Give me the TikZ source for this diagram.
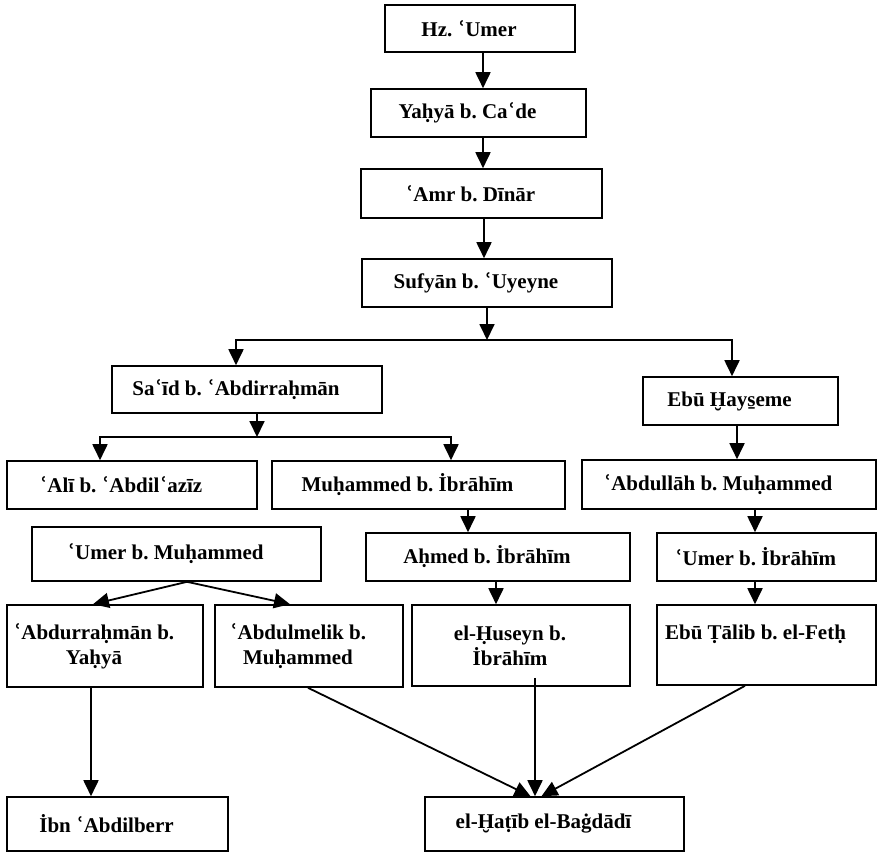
\documentclass[tikz,border=0pt]{standalone}
\usepackage{fontspec}
\setmainfont{Liberation Serif}
\newfontfamily\aynfont{DejaVu Serif}
\newcommand\ayn{{\aynfont ʿ}}
\usetikzlibrary{arrows.meta}
\frenchspacing

\tikzset{
  box/.style={draw, line width=1.6pt, inner sep=0pt},
  who/.style={font=\fontsize{21}{25}\selectfont\bfseries, align=center, xshift=-11pt},
  arr/.style={line width=1.8pt, -{Triangle[length=16pt,width=15pt]}},
  bar/.style={line width=1.8pt}
}

\begin{document}
\begin{tikzpicture}[x=1pt, y=-1pt]
  \useasboundingbox (0,0) rectangle (878,855);
  % chain at the top
  \node[box, minimum width=190, minimum height=47, label={[who]center:Hz. \ayn Umer}] (umer) at (480,28.5) {};
  \node[box, minimum width=215, minimum height=48, label={[who]center:Yaḥyā b. Ca\ayn de}] (yahya) at (478.5,113) {};
  \node[box, minimum width=241, minimum height=49, label={[who]center:\ayn Amr b. Dīnār}] (amr) at (481.5,193.5) {};
  \node[box, minimum width=250, minimum height=48, label={[who]center:Sufyān b. \ayn Uyeyne}] (sufyan) at (487,283) {};
  % two branches
  \node[box, minimum width=270, minimum height=47, label={[who]center:Sa\ayn īd b. \ayn Abdirraḥmān}] (said) at (247,389.5) {};
  \node[box, minimum width=195, minimum height=48, label={[who]center:Ebū Ḫays̱eme}] (hayseme) at (740.5,401) {};
  \node[box, minimum width=250, minimum height=48, label={[who]center:\ayn Alī b. \ayn Abdil\ayn azīz}] (ali) at (132,485) {};
  \node[box, minimum width=293, minimum height=48, label={[who]center:Muḥammed b. İbrāhīm}] (muhib) at (418.5,485) {};
  \node[box, minimum width=294, minimum height=49, label={[who]center:\ayn Abdullāh b. Muḥammed}] (abdullah) at (729,484.5) {};
  \node[box, minimum width=289, minimum height=54, label={[who]center:\ayn Umer b. Muḥammed}] (umermuh) at (176.5,554) {};
  \node[box, minimum width=264, minimum height=48, label={[who]center:Aḥmed b. İbrāhīm}] (ahmed) at (498,557) {};
  \node[box, minimum width=219, minimum height=48, label={[who]center:\ayn Umer b. İbrāhīm}] (umeribr) at (766.5,557) {};
  % lower row
  \node[box, minimum width=196, minimum height=82, label={[who]center:\ayn Abdurraḥmān b.\\ Yaḥyā}] (abdurrahman) at (105,646) {};
  \node[box, minimum width=188, minimum height=82, label={[who]center:\ayn Abdulmelik b.\\ Muḥammed}] (abdulmelik) at (309,646) {};
  \node[box, minimum width=218, minimum height=81, label={[who]center:el-Ḥuseyn b.\\ İbrāhīm}] (huseyn) at (521,645.5) {};
  \node[box, minimum width=219, minimum height=80, label={[who]center:Ebū Ṭālib b. el-Fetḥ\\ \mbox{}}] (ebutalib) at (766.5,645) {};
  \node[box, minimum width=221, minimum height=54, label={[who]center:İbn \ayn Abdilberr}] (ibn) at (117.5,824) {};
  \node[box, minimum width=259, minimum height=54, label={[who]center:el-Ḫaṭīb el-Baġdādī}] (hatib) at (554.5,824) {};
  % junctions
  \coordinate (j1) at (487,340);
  \coordinate (j2) at (257,437);
  % arrows
  \draw[arr] ([xshift=3]umer.south) -- ([xshift=3]umer.south |- yahya.north);
  \draw[arr] ([xshift=4.5]yahya.south) -- ([xshift=4.5]yahya.south |- amr.north);
  \draw[arr] ([xshift=2.5]amr.south) -- ([xshift=2.5]amr.south |- sufyan.north);
  \draw[arr] (sufyan.south) -- (j1);
  \draw[arr] (j1) -| ([xshift=-11]said.north);
  \draw[arr] (j1) -| ([xshift=-8.5]hayseme.north);
  \draw[arr] (said.south -| j2) -- (j2);
  \draw[arr] (j2) -| ([xshift=-32]ali.north);
  \draw[arr] (j2) -| ([xshift=32.5]muhib.north);
  \draw[arr] ([xshift=-3.5]hayseme.south) -- ([xshift=-3.5]hayseme.south |- abdullah.north);
  \draw[arr] ([xshift=26]abdullah.south) -- ([xshift=26]abdullah.south |- umeribr.north);
  \draw[arr] ([xshift=-11.5]umeribr.south) -- ([xshift=-11.5]umeribr.south |- ebutalib.north);
  \draw[arr] ([xshift=49.5]muhib.south) -- ([xshift=49.5]muhib.south |- ahmed.north);
  \draw[arr] ([xshift=-2]ahmed.south) -- ([xshift=-2]ahmed.south |- huseyn.north);
  \draw[arr] ([xshift=10.5]umermuh.south) -- ([xshift=-12]abdurrahman.north);
  \draw[arr] ([xshift=10.5]umermuh.south) -- ([xshift=-19]abdulmelik.north);
  \draw[arr] ([xshift=-14]abdurrahman.south) -- ([xshift=-26.5]ibn.north);
  \draw[arr] ([xshift=-1]abdulmelik.south) -- ([xshift=-24]hatib.north);
  \draw[arr] ([xshift=14,yshift=9]huseyn.south) -- ([xshift=-19.5]hatib.north);
  \draw[arr] ([xshift=-21.5]ebutalib.south) -- ([xshift=-13]hatib.north);
\end{tikzpicture}
\end{document}
